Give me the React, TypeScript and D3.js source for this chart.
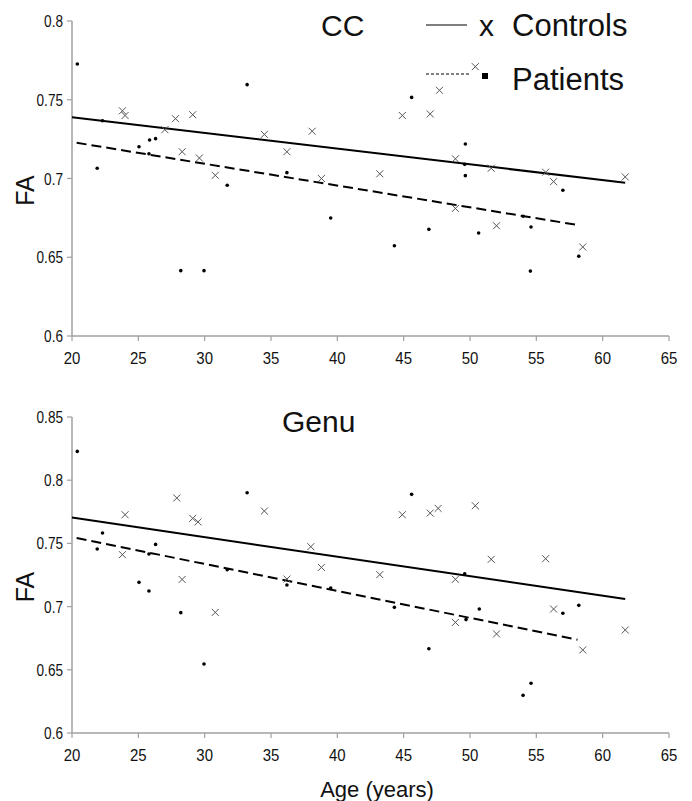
import React, { useRef, useEffect } from "react";
import * as d3 from "d3";

// ---- data ----
const xTicks = [20, 25, 30, 35, 40, 45, 50, 55, 60, 65];
const ccTicks = [0.6, 0.65, 0.7, 0.75, 0.8];
const genuTicks = [0.6, 0.65, 0.7, 0.75, 0.8, 0.85];

const ccControlAge = [23.8, 24.0, 27.0, 27.8, 28.3, 29.1, 29.6, 30.8, 34.5, 36.2, 38.1, 38.8, 43.2, 44.9, 47.0, 47.7, 50.4, 48.9, 48.9, 51.6, 52.0, 55.7, 56.3, 58.5, 61.7];
const ccControlFA = [0.743, 0.74, 0.731, 0.738, 0.717, 0.7405, 0.713, 0.702, 0.728, 0.717, 0.73, 0.7, 0.703, 0.74, 0.741, 0.756, 0.771, 0.7125, 0.681, 0.7065, 0.67, 0.704, 0.698, 0.6565, 0.701];
const ccPatientAge = [20.4, 21.9, 22.3, 25.05, 25.85, 26.3, 25.8, 28.2, 29.95, 31.7, 33.2, 36.2, 39.5, 44.3, 45.6, 46.9, 49.65, 49.6, 49.65, 50.65, 54.0, 54.6, 54.55, 57.0, 58.2];
const ccPatientFA = [0.7727, 0.7065, 0.7367, 0.7202, 0.7244, 0.7253, 0.7157, 0.6415, 0.6415, 0.6957, 0.7596, 0.7037, 0.6749, 0.6573, 0.7515, 0.6677, 0.7219, 0.709, 0.7018, 0.6654, 0.676, 0.6692, 0.6412, 0.6925, 0.6506];

const genuControlAge = [24.0, 23.8, 27.9, 28.3, 29.1, 29.5, 30.8, 34.5, 36.2, 38.0, 38.8, 43.2, 44.9, 47.0, 47.6, 50.4, 48.9, 48.9, 51.6, 52.0, 55.7, 56.3, 58.5, 61.7];
const genuControlFA = [0.7727, 0.7411, 0.7859, 0.7215, 0.7698, 0.767, 0.6954, 0.7756, 0.7218, 0.7474, 0.731, 0.7253, 0.7727, 0.774, 0.7777, 0.7798, 0.7216, 0.6875, 0.7374, 0.6784, 0.7379, 0.6981, 0.6657, 0.6815];
const genuPatientAge = [20.4, 21.9, 22.3, 25.05, 25.8, 26.3, 25.8, 28.2, 29.95, 31.7, 33.2, 36.2, 39.5, 44.3, 45.6, 46.9, 49.6, 49.7, 50.7, 54.0, 54.6, 57.0, 58.2];
const genuPatientFA = [0.8228, 0.7456, 0.7582, 0.7192, 0.7123, 0.7492, 0.7416, 0.6952, 0.6546, 0.7292, 0.7901, 0.7171, 0.7147, 0.6994, 0.7888, 0.6667, 0.726, 0.6897, 0.6981, 0.6298, 0.6393, 0.6947, 0.701];

// trend lines (end points)
const ccControlFitAge = [20, 61.7];
const ccControlFitFA = [0.7389, 0.6973];
const ccPatientFitAge = [20.35, 58.1];
const ccPatientFitFA = [0.7227, 0.6705];
const genuControlFitAge = [20, 61.7];
const genuControlFitFA = [0.7704, 0.706];
const genuPatientFitAge = [20.35, 58.1];
const genuPatientFitFA = [0.7543, 0.6738];

const W = 692;
const H = 801;
const FONT = "Arial, 'Liberation Sans', sans-serif";

type Panel = {
  title: string;
  titleX: number;
  titleY: number;
  yTicks: number[];
  yRange: [number, number];
  ctrlAge: number[];
  ctrlFA: number[];
  patAge: number[];
  patFA: number[];
  ctrlFitAge: number[];
  ctrlFitFA: number[];
  patFitAge: number[];
  patFitFA: number[];
};

const panels: Panel[] = [
  {
    title: "CC", titleX: 321, titleY: 36, yTicks: ccTicks, yRange: [336, 21],
    ctrlAge: ccControlAge, ctrlFA: ccControlFA, patAge: ccPatientAge, patFA: ccPatientFA,
    ctrlFitAge: ccControlFitAge, ctrlFitFA: ccControlFitFA, patFitAge: ccPatientFitAge, patFitFA: ccPatientFitFA
  },
  {
    title: "Genu", titleX: 282, titleY: 432, yTicks: genuTicks, yRange: [733, 417],
    ctrlAge: genuControlAge, ctrlFA: genuControlFA, patAge: genuPatientAge, patFA: genuPatientFA,
    ctrlFitAge: genuControlFitAge, ctrlFitFA: genuControlFitFA, patFitAge: genuPatientFitAge, patFitFA: genuPatientFitFA
  }
];

const App = () => {
  const svgRef = useRef<SVGSVGElement>(null);

  useEffect(() => {
    const svg = d3.select(svgRef.current);
    svg.selectAll("*").remove();

    const x = d3.scaleLinear().domain([20, 65]).range([72, 669]);
    const axisColor = "#a0a0a0";

    panels.forEach(p => {
      const y = d3
        .scaleLinear()
        .domain([d3.min(p.yTicks)!, d3.max(p.yTicks)!])
        .range(p.yRange);
      const g = svg.append("g");
      const y0 = p.yRange[0];

      // axes
      g.append("line")
        .attr("x1", 72).attr("x2", 72)
        .attr("y1", y0).attr("y2", p.yRange[1])
        .attr("stroke", axisColor).attr("stroke-width", 1.5);
      g.append("line")
        .attr("x1", 72).attr("x2", 669)
        .attr("y1", y0).attr("y2", y0)
        .attr("stroke", axisColor).attr("stroke-width", 1.5);

      p.yTicks.forEach(t => {
        g.append("line")
          .attr("x1", 67).attr("x2", 72)
          .attr("y1", y(t)).attr("y2", y(t))
          .attr("stroke", axisColor).attr("stroke-width", 1.2);
        g.append("text")
          .attr("transform", `translate(63,${y(t) + 6}) scale(0.8,1)`)
          .attr("text-anchor", "end")
          .style("font-family", FONT)
          .style("font-size", "17px")
          .attr("fill", "#111")
          .text(String(t));
      });

      xTicks.forEach(t => {
        g.append("line")
          .attr("x1", x(t)).attr("x2", x(t))
          .attr("y1", y0).attr("y2", y0 + 5)
          .attr("stroke", axisColor).attr("stroke-width", 1.2);
        g.append("text")
          .attr("transform", `translate(${x(t)},${y0 + 28}) scale(0.88,1)`)
          .attr("text-anchor", "middle")
          .style("font-family", FONT)
          .style("font-size", "17px")
          .attr("fill", "#111")
          .text(String(t));
      });

      // y label
      g.append("text")
        .attr("transform", `translate(34,${(y0 + p.yRange[1]) / 2 + 12}) rotate(-90)`)
        .attr("text-anchor", "middle")
        .style("font-family", FONT)
        .style("font-size", "25px")
        .attr("fill", "#111")
        .text("FA");

      // title
      g.append("text")
        .attr("x", p.titleX).attr("y", p.titleY)
        .style("font-family", FONT)
        .style("font-size", "30px")
        .attr("fill", "#111")
        .text(p.title);

      const line = d3.line<number>().x(d => x(d[0])).y(d => y(d[1]));

      // trend lines
      g.append("path")
        .attr("d", line(p.ctrlFitAge.map((a, i) => [a, p.ctrlFitFA[i]]) as any))
        .attr("fill", "none").attr("stroke", "#000").attr("stroke-width", 2);
      g.append("path")
        .attr("d", line(p.patFitAge.map((a, i) => [a, p.patFitFA[i]]) as any))
        .attr("fill", "none").attr("stroke", "#000").attr("stroke-width", 2)
        .attr("stroke-dasharray", "10,5");

      // control crosses
      const s = 3.5;
      p.ctrlAge.forEach((a, i) => {
        const cx = x(a);
        const cy = y(p.ctrlFA[i]);
        g.append("path")
          .attr("d", `M${cx - s},${cy - s}L${cx + s},${cy + s}M${cx - s},${cy + s}L${cx + s},${cy - s}`)
          .attr("stroke", "#555").attr("stroke-width", 1).attr("fill", "none");
      });

      // patient dots
      g.selectAll("circle.pat")
        .data(p.patAge.map((a, i) => [a, p.patFA[i]]))
        .join("circle")
        .attr("class", "pat")
        .attr("cx", d => x(d[0]))
        .attr("cy", d => y(d[1]))
        .attr("r", 1.8)
        .attr("fill", "#000");
    });

    // legend
    const lg = svg.append("g");
    lg.append("line").attr("x1", 426).attr("x2", 467).attr("y1", 25).attr("y2", 25)
      .attr("stroke", "#000").attr("stroke-width", 1.2);
    lg.append("text").attr("x", 479).attr("y", 36)
      .style("font-family", FONT).style("font-size", "30px").attr("fill", "#111").text("x");
    lg.append("text").attr("x", 512).attr("y", 36)
      .style("font-family", FONT).style("font-size", "31px").attr("fill", "#111").text("Controls");
    lg.append("line").attr("x1", 426).attr("x2", 471).attr("y1", 74).attr("y2", 74)
      .attr("stroke", "#000").attr("stroke-width", 1).attr("stroke-dasharray", "3,2");
    lg.append("rect").attr("x", 482).attr("y", 73).attr("width", 6).attr("height", 6).attr("fill", "#000");
    lg.append("text").attr("x", 512).attr("y", 90)
      .style("font-family", FONT).style("font-size", "31px").attr("fill", "#111").text("Patients");

    // x axis title
    svg.append("text").attr("x", 377).attr("y", 797)
      .attr("text-anchor", "middle")
      .style("font-family", FONT).style("font-size", "22px").attr("fill", "#111")
      .text("Age (years)");
  }, []);

  return (
    <svg
      ref={svgRef}
      width={W}
      height={H}
      style={{ position: "absolute", left: 0, top: 0, background: "#fff" }}
    />
  );
};

export default App;
